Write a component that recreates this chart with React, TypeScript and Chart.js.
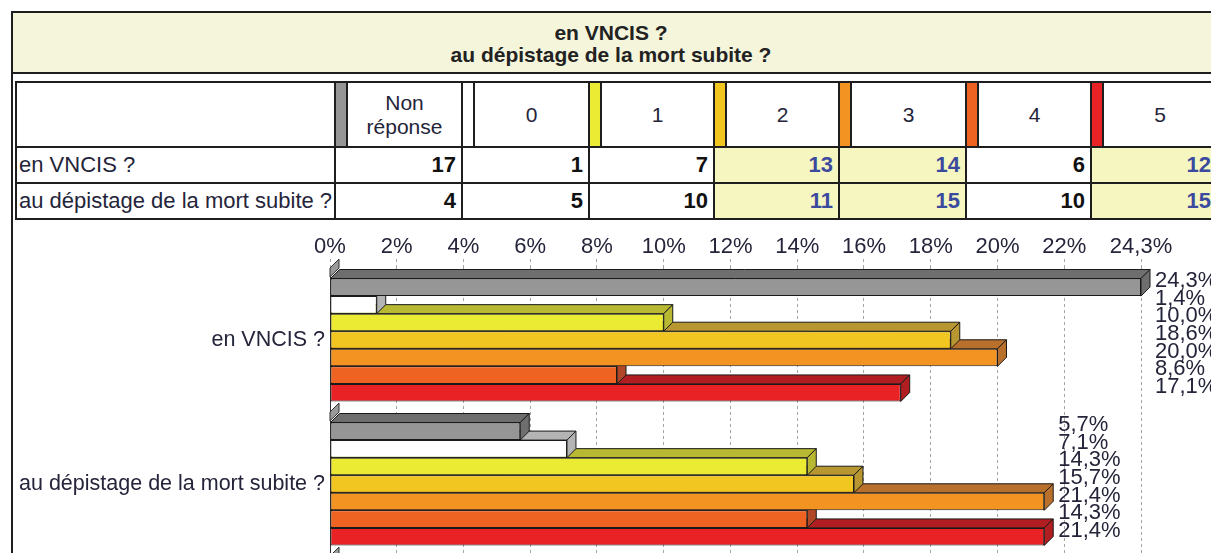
import React, { useEffect, useRef } from 'react';
import { Chart, registerables } from 'chart.js';

Chart.register(...registerables);

// ---------- data ----------
const TITLE_LINES = ['en VNCIS ?', 'au dépistage de la mort subite ?'];
const CATEGORIES = ['en VNCIS ?', 'au dépistage de la mort subite ?'];
const SERIES = ['Non réponse', '0', '1', '2', '3', '4', '5'];
const COUNTS_VNCIS = [17, 1, 7, 13, 14, 6, 12];
const COUNTS_MORT_SUBITE = [4, 5, 10, 11, 15, 10, 15];
const PCT_VNCIS = [24.3, 1.4, 10.0, 18.6, 20.0, 8.6, 17.1];
const PCT_MORT_SUBITE = [5.7, 7.1, 14.3, 15.7, 21.4, 14.3, 21.4];
const HIGHLIGHTED = [false, false, false, true, true, false, true];
const X_TICKS = [0, 2, 4, 6, 8, 10, 12, 14, 16, 18, 20, 22, 24.3];
const X_MAX = 24.3;

// ---------- styles ----------
const FRONT = ['#969696', '#ffffff', '#ebeb33', '#f2c621', '#f29322', '#ef6322', '#e92225'];
const DEPTH = ['#6e6e6e', '#b4b4b4', '#b8b833', '#b89630', '#b8702a', '#b04828', '#b01e22'];
const FONT = "'Liberation Sans', Arial, Helvetica, sans-serif";
const TEXT = '#24243a';
const LINE = '#1e1e1e';
const BLUE = '#3b4a9e';
const TITLE_BG = '#f5f5dc';
const CELL_BG = '#f6f6c0';

// table layout
const TABLE_LEFT = 16;
const COL_X = [335, 462, 589, 714, 839, 966, 1091];
const COL_END = 1217;
const SWATCH_W = 12;
const ROW_Y = [82, 147, 183, 219];

const fmtTick = (v: number) => String(v).replace('.', ',') + '%';
const fmtVal = (v: number) => v.toFixed(1).replace('.', ',') + '%';

function Table() {
  const els: React.ReactNode[] = [];
  const rows = [COUNTS_VNCIS, COUNTS_MORT_SUBITE];
  rows.forEach((row, r) => {
    row.forEach((_, c) => {
      if (!HIGHLIGHTED[c]) return;
      const x0 = COL_X[c];
      const x1 = c + 1 < COL_X.length ? COL_X[c + 1] : COL_END;
      els.push(
        <div key={`bg${r}-${c}`} style={{ position: 'absolute', left: x0, top: ROW_Y[r + 1], width: x1 - x0, height: ROW_Y[r + 2] - ROW_Y[r + 1], background: CELL_BG }} />
      );
    });
  });
  SERIES.forEach((_, c) => {
    els.push(
      <div key={`sw${c}`} style={{ position: 'absolute', left: COL_X[c], top: ROW_Y[0], width: SWATCH_W, height: ROW_Y[1] - ROW_Y[0], background: FRONT[c] }} />
    );
  });
  ROW_Y.forEach((y, i) => {
    els.push(<div key={`h${i}`} style={{ position: 'absolute', left: TABLE_LEFT - 1, top: y - 1, width: COL_END - TABLE_LEFT + 2, height: 2, background: LINE }} />);
  });
  [TABLE_LEFT, ...COL_X].forEach((x, i) => {
    els.push(<div key={`v${i}`} style={{ position: 'absolute', left: x - 1, top: ROW_Y[0] - 1, width: 2, height: ROW_Y[3] - ROW_Y[0] + 2, background: LINE }} />);
  });
  COL_X.forEach((x, i) => {
    els.push(<div key={`vs${i}`} style={{ position: 'absolute', left: x + SWATCH_W - 1, top: ROW_Y[0] - 1, width: 2, height: ROW_Y[1] - ROW_Y[0] + 2, background: LINE }} />);
  });
  SERIES.forEach((name, c) => {
    const x0 = COL_X[c] + SWATCH_W;
    const x1 = c + 1 < COL_X.length ? COL_X[c + 1] : COL_END;
    els.push(
      <div key={`ht${c}`} style={{ position: 'absolute', left: x0, top: ROW_Y[0], width: x1 - x0, height: ROW_Y[1] - ROW_Y[0], display: 'flex', alignItems: 'center', justifyContent: 'center', textAlign: 'center', fontSize: 21, lineHeight: '24px', color: TEXT }}>
        <span>
          {name.split(' ').map((w, i, a) => (
            <React.Fragment key={i}>
              {w}
              {i < a.length - 1 ? <br /> : null}
            </React.Fragment>
          ))}
        </span>
      </div>
    );
  });
  rows.forEach((row, r) => {
    const y0 = ROW_Y[r + 1];
    const h = ROW_Y[r + 2] - y0;
    els.push(
      <div key={`rl${r}`} style={{ position: 'absolute', left: TABLE_LEFT + 3, top: y0, width: COL_X[0] - TABLE_LEFT - 4, height: h, display: 'flex', alignItems: 'center', fontSize: 22, color: TEXT, whiteSpace: 'nowrap' }}>
        {CATEGORIES[r]}
      </div>
    );
    row.forEach((v, c) => {
      const x0 = COL_X[c];
      const x1 = c + 1 < COL_X.length ? COL_X[c + 1] : COL_END;
      els.push(
        <div key={`cv${r}-${c}`} style={{ position: 'absolute', left: x0, top: y0, width: x1 - x0 - 6, height: h, display: 'flex', alignItems: 'center', justifyContent: 'flex-end', fontSize: 22, fontWeight: 'bold', color: HIGHLIGHTED[c] ? BLUE : '#111' }}>
          {v}
        </div>
      );
    });
  });
  return <>{els}</>;
}

export default function App() {
  const ref = useRef<HTMLCanvasElement>(null);

  useEffect(() => {
    const canvas = ref.current!;
    const D = 9;
    Chart.defaults.font.family = FONT;

    const bar3d = {
      id: 'bar3d',
      beforeDatasetsDraw(chart: any) {
        const ctx = chart.ctx;
        const ys = chart.scales.y;
        const n = chart.data.labels.length;
        const band = (ys.bottom - ys.top) / n;
        const left = chart.chartArea.left;
        ctx.save();
        ctx.fillStyle = '#9a9a9a';
        ctx.strokeStyle = '#333';
        ctx.lineWidth = 1;
        for (let i = 0; i <= n; i++) {
          const b = ys.top + i * band;
          ctx.beginPath();
          ctx.moveTo(left, b + D);
          ctx.lineTo(left, b);
          ctx.lineTo(left + D, b - D);
          ctx.lineTo(left + D, b);
          ctx.closePath();
          ctx.fill();
          ctx.stroke();
        }
        ctx.restore();
      },
      beforeDatasetDraw(chart: any, args: any) {
        const ctx = chart.ctx;
        const k = args.index;
        ctx.save();
        ctx.lineWidth = 1;
        ctx.strokeStyle = '#1a1a1a';
        ctx.fillStyle = DEPTH[k];
        args.meta.data.forEach((el: any) => {
          const { x, y, base, height } = el.getProps(['x', 'y', 'base', 'height'], true);
          const top = y - height / 2;
          const bottom = y + height / 2;
          const l = Math.min(x, base);
          const r = Math.max(x, base);
          ctx.beginPath();
          ctx.moveTo(l, top);
          ctx.lineTo(r, top);
          ctx.lineTo(r + D, top - D);
          ctx.lineTo(l + D, top - D);
          ctx.closePath();
          ctx.fill();
          ctx.stroke();
          ctx.beginPath();
          ctx.moveTo(r, top);
          ctx.lineTo(r + D, top - D);
          ctx.lineTo(r + D, bottom - D);
          ctx.lineTo(r, bottom);
          ctx.closePath();
          ctx.fill();
          ctx.stroke();
        });
        ctx.restore();
      },
      afterDatasetsDraw(chart: any) {
        const ctx = chart.ctx;
        const metas = chart.getSortedVisibleDatasetMetas();
        const n = chart.data.labels.length;
        ctx.save();
        ctx.font = `22px ${FONT}`;
        ctx.fillStyle = TEXT;
        ctx.textAlign = 'left';
        ctx.textBaseline = 'middle';
        for (let i = 0; i < n; i++) {
          let maxX = -Infinity;
          metas.forEach((m: any) => {
            maxX = Math.max(maxX, m.data[i].x);
          });
          metas.forEach((m: any) => {
            const el = m.data[i];
            const v = chart.data.datasets[m.index].data[i];
            ctx.fillText(fmtVal(v), maxX + D + 5, el.y - 6);
          });
        }
        ctx.restore();
      },
    };

    const chart = new Chart(canvas, {
      type: 'bar',
      data: {
        labels: CATEGORIES,
        datasets: SERIES.map((name, k) => ({
          label: name,
          data: [PCT_VNCIS[k], PCT_MORT_SUBITE[k]],
          backgroundColor: FRONT[k],
          borderColor: '#1a1a1a',
          borderWidth: 1,
          borderSkipped: false,
          categoryPercentage: 0.854,
          barPercentage: 1,
        })),
      },
      options: {
        indexAxis: 'y',
        responsive: false,
        animation: false,
        layout: { padding: { left: 0, right: 70, top: 0, bottom: 8 } },
        plugins: {
          legend: { display: false },
          tooltip: { enabled: false },
          title: { display: false },
        },
        scales: {
          x: {
            type: 'linear',
            position: 'top',
            min: 0,
            max: X_MAX,
            afterBuildTicks: (s: any) => {
              s.ticks = X_TICKS.map((v) => ({ value: v }));
            },
            afterFit: (s: any) => {
              s.height = 44;
              s.paddingLeft = 0;
              s.paddingRight = 0;
            },
            ticks: {
              autoSkip: false,
              maxRotation: 0,
              minRotation: 0,
              padding: -1,
              color: TEXT,
              font: { size: 22, family: FONT },
              callback: (v: any) => fmtTick(Number(v)),
            },
            grid: {
              color: '#a6a6a6',
              lineWidth: 1,
              drawTicks: true,
              tickLength: 9,
              tickColor: '#a6a6a6',
              tickBorderDash: [3, 3],
            },
            border: { display: false, dash: [3, 3] },
          },
          y: {
            type: 'category',
            afterFit: (s: any) => {
              s.width = 330;
              s.paddingTop = 0;
              s.paddingBottom = 0;
            },
            ticks: {
              padding: 5,
              color: TEXT,
              font: { size: 21.5, family: FONT },
            },
            grid: { display: false, drawTicks: false },
            border: { display: true, color: '#333', width: 1 },
          },
        },
      } as any,
      plugins: [bar3d],
    });
    return () => chart.destroy();
  }, []);

  return (
    <div style={{ position: 'absolute', left: 0, top: 0, width: 1211, height: 553, overflow: 'hidden', background: '#fff', fontFamily: FONT }}>
      <div style={{ position: 'absolute', left: 11, top: 11, width: 1210, height: 63, background: TITLE_BG, borderTop: `2px solid ${LINE}`, borderBottom: `2px solid ${LINE}`, boxSizing: 'border-box' }} />
      <div style={{ position: 'absolute', left: 11, top: 22, width: 1200, textAlign: 'center', fontWeight: 'bold', fontSize: 21, lineHeight: '22px', color: '#222' }}>
        {TITLE_LINES.map((t, i) => (
          <div key={i}>{t}</div>
        ))}
      </div>
      <div style={{ position: 'absolute', left: 11, top: 11, width: 2, height: 560, background: LINE }} />
      <Table />
      <canvas ref={ref} width={1211} height={340} style={{ position: 'absolute', left: 0, top: 224, width: 1211, height: 340 }} />
    </div>
  );
}
